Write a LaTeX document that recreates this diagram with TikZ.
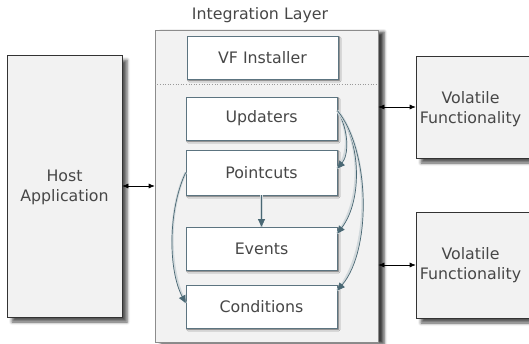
\documentclass[tikz,border=0pt]{standalone}
\usepackage{fontspec}
\setmainfont{DejaVu Sans}
\usetikzlibrary{shadows.blur,arrows.meta,calc}
\definecolor{boxfill}{HTML}{F2F2F2}
\definecolor{txt}{HTML}{474747}
\definecolor{flow}{HTML}{4A6874}
\definecolor{halo}{HTML}{D2D9DC}
\definecolor{inner}{HTML}{5C7480}
\tikzset{
  outerbox/.style={draw=black!80, line width=0.6pt, fill=boxfill, inner sep=0pt,
    blur shadow={shadow xshift=5pt, shadow yshift=-5pt, shadow blur radius=3pt, shadow opacity=65}},
  layerbox/.style={draw=black!45, line width=0.6pt, fill=boxfill, inner sep=0pt,
    blur shadow={shadow xshift=6pt, shadow yshift=-2pt, shadow blur radius=3pt, shadow opacity=75}},
  innerbox/.style={draw=inner, line width=0.6pt, fill=white, minimum width=151pt, minimum height=43pt,
    inner sep=0pt, text=txt, font=\fontsize{15.8}{19}\selectfont,
    blur shadow={shadow xshift=1.8pt, shadow yshift=-1.8pt, shadow blur radius=1.2pt, shadow opacity=60}},
  lbl/.style={text=txt, font=\fontsize{15.8}{20}\selectfont, align=center, inner sep=0pt},
  link/.style={{Latex[length=6pt,width=5pt]}-{Latex[length=6pt,width=5pt]}, line width=0.6pt, black},
  flowarrow/.style={-{Triangle[length=7.5pt,width=7pt]}, draw=flow, line width=0.7pt,
    preaction={draw=halo, line width=2.4pt, -}},
}
\begin{document}
\begin{tikzpicture}[x=1pt,y=-1pt]
\useasboundingbox (0,0) rectangle (529,343);
% outer boxes
\node[outerbox, minimum width=115pt, minimum height=262pt] (host) at (64.5,186) {};
\node[lbl] (hostt) at (64.5,187) {Host\\Application};
\node[layerbox, minimum width=223pt, minimum height=312pt] (integ) at (266.5,186) {};
\node[lbl] (title) at (260,15) {Integration Layer};
\node[outerbox, minimum width=120pt, minimum height=102pt] (vol1) at (476,107) {};
\node[lbl] (vol1t) at (470.5,109) {Volatile\\Functionality};
\node[outerbox, minimum width=120pt, minimum height=106pt] (vol2) at (476,265) {};
\node[lbl] (vol2t) at (470.5,265) {Volatile\\Functionality};
% dotted separator
\draw[black!40, dotted, line width=0.6pt] ($(integ.north west)+(0,55)$) -- ($(integ.north east)+(0,55)$);
% inner boxes
\node[innerbox] (vfi) at (262.5,57.5) {VF Installer};
\node[innerbox] (upd) at (261.5,118.5) {Updaters};
\node[innerbox, minimum height=45pt] (pc) at (261.5,172.5) {Pointcuts};
\node[innerbox] (ev) at (261.5,248.5) {Events};
\node[innerbox] (cond) at (261.5,306.5) {Conditions};
% links between outer boxes
\draw[link] (host.east) -- (host.east -| integ.west);
\draw[link] (vol1.west -| integ.east) -- (vol1.west);
\draw[link] (vol2.west -| integ.east) -- (vol2.west);
% flow arrows
\draw[flowarrow] ([yshift=8pt]upd.east) .. controls (349,130) and (349,155) .. ([yshift=4pt]pc.east);
\draw[flowarrow] ([yshift=8pt]upd.east) .. controls (361,140) and (363,200) .. ([yshift=15pt]ev.east);
\draw[flowarrow] ([yshift=8pt]upd.east) .. controls (370,150) and (372,250) .. ([yshift=16pt]cond.east);
\draw[flowarrow] (pc.west) .. controls (168,210) and (168,270) .. ([yshift=3.5pt]cond.west);
\draw[flowarrow] (pc.south) -- (ev.north);
\end{tikzpicture}
\end{document}
